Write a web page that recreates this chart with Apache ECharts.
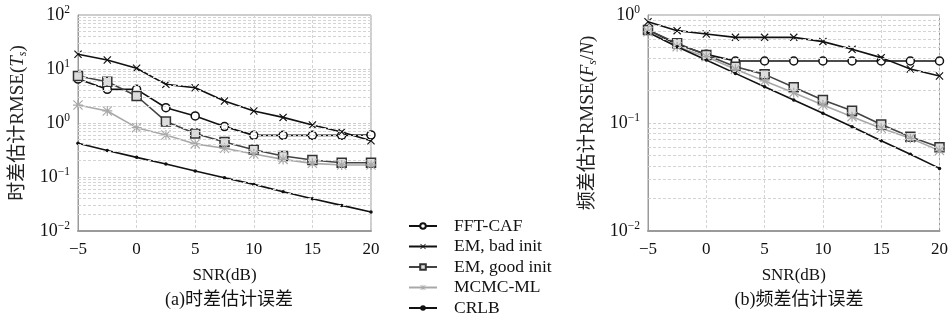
<!DOCTYPE html>
<html><head><meta charset="utf-8">
<script src="https://cdn.jsdelivr.net/npm/echarts@6/dist/echarts.min.js"></script>
<style>html,body{margin:0;padding:0;background:#fff}#c{width:951px;height:320px}</style>
</head><body><div id="c"></div>
<script>
// ---- data ----
const snr = [-5, -2.5, 0, 2.5, 5, 7.5, 10, 12.5, 15, 17.5, 20];
const seriesNames = ['FFT-CAF', 'EM, bad init', 'EM, good init', 'MCMC-ML', 'CRLB'];

// (a) time-difference RMSE (Ts)
const tdFFT  = [6.5, 4.2, 4.2, 1.92, 1.35, 0.86, 0.59, 0.59, 0.59, 0.59, 0.60];
const tdBad  = [18.7, 14.7, 10.3, 5.2, 4.5, 2.55, 1.67, 1.27, 0.92, 0.68, 0.47];
const tdGood = [7.4, 5.8, 3.16, 1.07, 0.64, 0.445, 0.32, 0.245, 0.207, 0.184, 0.184];
const tdMCMC = [2.15, 1.67, 0.82, 0.60, 0.41, 0.34, 0.267, 0.212, 0.179, 0.167, 0.167];
const tdCRLB = [0.42, 0.31, 0.231, 0.174, 0.129, 0.097, 0.073, 0.0535, 0.0397, 0.0298, 0.0225];

// (b) frequency-difference RMSE (Fs/N)
const fdFFT  = [0.726, 0.535, 0.432, 0.375, 0.375, 0.375, 0.375, 0.375, 0.375, 0.375, 0.375];
const fdBad  = [0.867, 0.716, 0.667, 0.621, 0.621, 0.621, 0.567, 0.481, 0.403, 0.316, 0.272];
const fdGood = [0.726, 0.547, 0.426, 0.332, 0.282, 0.214, 0.163, 0.130, 0.097, 0.0747, 0.0595];
const fdMCMC = [0.70, 0.509, 0.411, 0.314, 0.245, 0.191, 0.147, 0.1145, 0.0893, 0.0721, 0.0555];
const fdCRLB = [0.69, 0.509, 0.383, 0.288, 0.217, 0.163, 0.123, 0.0925, 0.0686, 0.0513, 0.038];

const xTicks = [-5, 0, 5, 10, 15, 20];
const titleA = '(a)时差估计误差';
const titleB = '(b)频差估计误差';
const xName = 'SNR(dB)';

// ---- rendering ----
const FONT = '"Liberation Serif", "DejaVu Serif", "Noto Sans CJK SC", serif';
const chart = echarts.init(document.getElementById('c'), null, {renderer: 'canvas'});

const pair = (ys) => snr.map((x, i) => [x, ys[i]]);
const xSym = 'path://M1,0L5,4L9,0L10,1L6,5L10,9L9,10L5,6L1,10L0,9L4,5L0,1Z';
const starSym = 'path://M4.4,0H5.6V10H4.4Z M0,4.4H10V5.6H0Z M0.8,0L10,9.2L9.2,10L0,0.8Z M9.2,0L10,0.8L0.8,10L0,9.2Z';

const styles = {
  'FFT-CAF':       {color: '#111', symbol: 'circle', symbolSize: 8, item: {color: '#fff', borderColor: '#111', borderWidth: 1.5}},
  'EM, bad init':  {color: '#111', symbol: xSym, symbolSize: 8, item: {color: '#111'}},
  'EM, good init': {color: '#444', symbol: 'rect', symbolSize: 9, item: {color: '#ddd', borderColor: '#333', borderWidth: 1.5}},
  'MCMC-ML':       {color: '#a8a8a8', symbol: starSym, symbolSize: 10, item: {color: '#a8a8a8'}},
  'CRLB':          {color: '#111', symbol: 'circle', symbolSize: 3.5, item: {color: '#111'}}
};

function mk(name, ys, idx) {
  const s = styles[name];
  return {
    name, type: 'line', xAxisIndex: idx, yAxisIndex: idx, data: pair(ys),
    symbol: s.symbol, symbolSize: s.symbolSize, showAllSymbol: true,
    lineStyle: {color: s.color, width: 1.6},
    itemStyle: s.item, color: s.color, z: 3, animation: false
  };
}

function minorLines(decades) {
  const out = [];
  decades.forEach(d => { for (let k = 2; k <= 9; k++) out.push({yAxis: k * Math.pow(10, d)}); });
  return out;
}
function minorSeries(idx, decades) {
  return {
    name: 'minor' + idx, type: 'line', xAxisIndex: idx, yAxisIndex: idx, data: [], z: 1, silent: true,
    markLine: {silent: true, symbol: ['none', 'none'], label: {show: false}, animation: false,
      lineStyle: {color: '#d4d4d4', type: [3, 2], width: 1}, data: minorLines(decades)}
  };
}

const sup = (v) => {
  const e = Math.round(Math.log10(v));
  const es = e < 0 ? '\u2212' + Math.abs(e) : String(e);
  return '{b|10}{s|' + es + '}';
};

function xAxis(idx) {
  return {
    type: 'value', gridIndex: idx, min: -5, max: 20, interval: 5,
    name: xName, nameLocation: 'middle', nameGap: 36,
    nameTextStyle: {fontFamily: FONT, fontSize: 17, color: '#111'},
    axisLine: {show: true, onZero: false, lineStyle: {color: '#9a9a9a', width: 2}},
    axisTick: {show: false},
    axisLabel: {fontFamily: FONT, fontSize: 17, color: '#111', margin: 10,
      formatter: v => v < 0 ? '\u2212' + Math.abs(v) : String(v)},
    splitLine: {show: true, lineStyle: {color: '#d4d4d4', type: [3, 2], width: 1}}
  };
}
function yAxis(idx, min, max, nameRich) {
  return {
    type: 'log', logBase: 10, gridIndex: idx, min, max,
    name: nameRich, nameLocation: 'middle', nameGap: 49, nameRotate: 90,
    nameTextStyle: {fontFamily: FONT, fontSize: 19, color: '#222',
      rich: {
        n: {fontFamily: FONT, fontSize: 19, color: '#222'},
        i: {fontFamily: FONT, fontSize: 19, fontStyle: 'italic', color: '#222'},
        sub: {fontFamily: FONT, fontSize: 12, fontStyle: 'italic', color: '#222', padding: [9, 0, 0, 0]}
      }},
    axisLine: {show: true, onZero: false, lineStyle: {color: '#9a9a9a', width: 1}},
    axisTick: {show: false},
    axisLabel: {formatter: sup, margin: 8, color: '#111',
      rich: {
        b: {fontFamily: FONT, fontSize: 18, color: '#111'},
        s: {fontFamily: FONT, fontSize: 11.5, color: '#111', padding: [0, 0, 11, 0]}
      }},
    splitLine: {show: true, lineStyle: {color: '#cfcfcf', type: [3, 2], width: 1}}
  };
}

const option = {
  backgroundColor: '#fff',
  animation: false,
  grid: [
    {left: 78, top: 15, width: 293, height: 216, show: true, borderColor: '#9a9a9a', borderWidth: 1},
    {left: 648, top: 15, width: 293, height: 216, show: true, borderColor: '#9a9a9a', borderWidth: 1}
  ],
  title: [
    {text: titleA, left: 224, top: 286, textAlign: 'center', textStyle: {fontFamily: FONT, fontSize: 18, fontWeight: 'normal', color: '#111'}},
    {text: titleB, left: 794, top: 286, textAlign: 'center', textStyle: {fontFamily: FONT, fontSize: 18, fontWeight: 'normal', color: '#111'}}
  ],
  legend: {
    data: seriesNames, orient: 'vertical', left: 408, top: 216, itemGap: 0.5, padding: 0,
    height: 104, itemWidth: 28, itemHeight: 7,
    textStyle: {fontFamily: FONT, fontSize: 17.5, lineHeight: 20, color: '#111', padding: [0, 0, 0, 12]}
  },
  xAxis: [xAxis(0), xAxis(1)],
  yAxis: [
    yAxis(0, 0.01, 100, '{n|时差估计RMSE(}{i|T}{sub|s}{n|)}'),
    yAxis(1, 0.01, 1, '{n|频差估计RMSE(}{i|F}{sub|s}{n|/}{i|N}{n|)}')
  ],
  series: [
    minorSeries(0, [-2, -1, 0, 1]),
    minorSeries(1, [-2, -1]),
    mk('FFT-CAF', tdFFT, 0), mk('EM, bad init', tdBad, 0), mk('EM, good init', tdGood, 0),
    mk('MCMC-ML', tdMCMC, 0), mk('CRLB', tdCRLB, 0),
    mk('FFT-CAF', fdFFT, 1), mk('EM, bad init', fdBad, 1), mk('EM, good init', fdGood, 1),
    mk('MCMC-ML', fdMCMC, 1), mk('CRLB', fdCRLB, 1)
  ]
};
chart.setOption(option);
</script></body></html>
